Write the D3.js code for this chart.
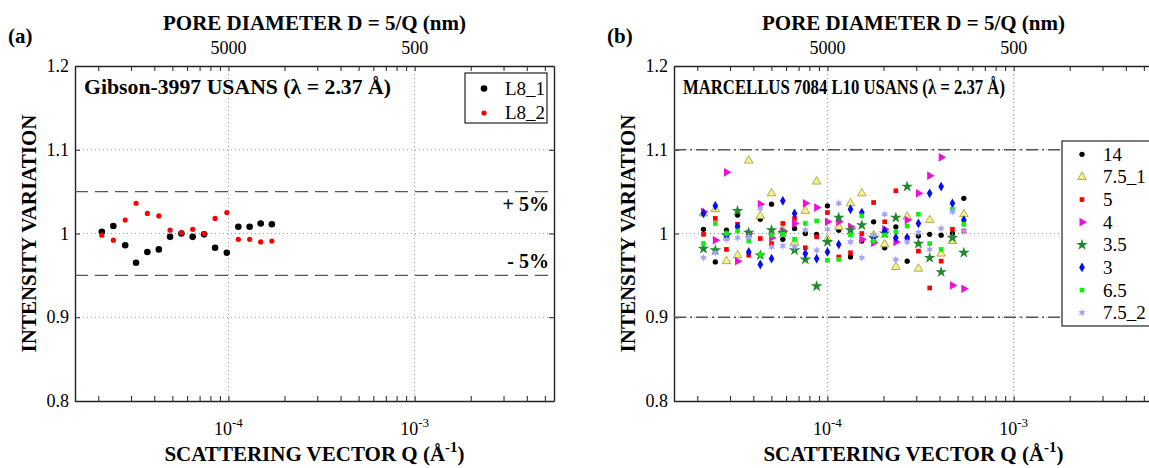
<!DOCTYPE html>
<html><head><meta charset="utf-8">
<script src="https://cdn.jsdelivr.net/npm/d3@7"></script>
<style>
body{margin:0;background:#fff;}
</style></head>
<body><svg id="chart" width="1149" height="468"></svg>
<script>
// ---------- DATA ----------
const xTicksMinor = [2e-5,3e-5,4e-5,5e-5,6e-5,7e-5,8e-5,9e-5,1e-4,2e-4,3e-4,4e-4,5e-4,6e-4,7e-4,8e-4,9e-4,1e-3,2e-3,3e-3,4e-3,5e-3];
const xMajor = [1e-4, 1e-3];
const xMajorExp = ["-4", "-3"];
const topLabels = ["5000", "500"];
const yTicks = [0.8, 0.9, 1, 1.1, 1.2];
const yTickLabels = ["0.8", "0.9", "1", "1.1", "1.2"];

// panel (a)
const qA = [2.09e-5,2.41e-5,2.79e-5,3.19e-5,3.67e-5,4.23e-5,4.86e-5,5.59e-5,6.43e-5,7.40e-5,8.48e-5,9.80e-5,1.13e-4,1.30e-4,1.49e-4,1.71e-4];
const L8_1 = [1.002,1.009,0.986,0.965,0.978,0.981,0.996,1.000,0.996,0.999,0.983,0.977,1.008,1.008,1.012,1.011];
const L8_2 = [0.998,0.992,1.016,1.036,1.024,1.021,1.004,1.001,1.005,1.000,1.018,1.025,0.993,0.993,0.990,0.991];
const seriesA = ["L8_1", "L8_2"];
const bandsA = [1.05, 0.95];
const bandLabelsA = ["+ 5%", "- 5%"];

// panel (b)
const qB = [2.16e-5,2.50e-5,2.87e-5,3.29e-5,3.78e-5,4.36e-5,5.01e-5,5.76e-5,6.66e-5,7.61e-5,8.75e-5,1.00e-4,1.15e-4,1.33e-4,1.53e-4,1.77e-4,2.03e-4,2.33e-4,2.68e-4,3.08e-4,3.54e-4,4.08e-4,4.69e-4,5.40e-4];
const s14   = [1.005,0.966,1.004,1.022,0.999,1.017,1.035,0.993,1.006,1.000,0.999,1.033,1.004,0.972,0.991,1.014,0.983,1.008,0.967,0.997,0.999,0.998,1.000,1.042];
const s75_1 = [1.024,1.029,0.967,0.974,1.087,1.021,1.048,1.004,0.989,1.027,1.062,0.993,1.008,1.036,1.048,0.998,0.987,0.960,1.020,0.958,1.016,0.976,0.991,1.023];
const s5    = [0.999,1.018,0.981,1.011,0.974,0.994,0.988,1.012,1.018,0.983,0.996,1.025,0.972,0.977,1.000,1.037,1.014,1.051,0.995,0.979,0.935,0.967,1.005,1.003];
const s4    = [1.026,0.992,1.073,0.967,1.000,1.035,0.995,1.003,1.012,1.036,1.031,1.014,1.014,1.008,0.993,0.989,1.005,0.990,1.016,1.048,1.069,1.091,0.938,0.934];
const s35   = [0.982,0.980,0.998,1.027,1.001,0.974,1.004,1.001,0.980,0.969,0.937,0.990,1.019,1.004,1.010,0.995,1.000,1.019,1.056,0.988,0.971,0.954,0.995,0.977];
const s3    = [1.024,1.033,0.997,1.008,0.978,0.963,0.970,1.039,1.024,0.976,0.970,0.978,0.987,1.029,1.025,0.995,1.003,0.995,0.995,1.012,1.048,1.056,1.036,1.016];
const s65   = [0.988,1.012,1.000,1.003,0.991,0.975,0.998,0.999,0.993,1.012,1.015,0.968,0.969,0.998,1.021,0.991,0.998,1.002,1.009,1.023,0.988,0.981,1.029,1.011];
const s75_2 = [0.971,0.977,0.993,0.995,0.996,1.030,0.984,0.985,0.984,1.004,0.980,1.005,1.036,0.990,0.971,0.998,1.023,0.969,0.990,1.001,0.981,1.006,1.026,1.003];
const seriesBNames = ["14", "7.5_1", "5", "4", "3.5", "3", "6.5", "7.5_2"];
const seriesBValues = [s14, s75_1, s5, s4, s35, s3, s65, s75_2];
const bandsB = [1.1, 0.9];

// ---------- STYLE ----------
const FONT = "Liberation Serif";
const svg = d3.select("#chart");
const xDomain = [1.5e-5, 5.6e-3];
const yDomain = [0.8, 1.2];
const plotTop = 66, plotBot = 401;

const markerStyles = [
  {shape:"circle", fill:"#000", stroke:"none"},
  {shape:"triangle", fill:"#f4f28a", stroke:"#9a9a3a"},
  {shape:"square", fill:"#ff0000", stroke:"none"},
  {shape:"tright", fill:"#f010d8", stroke:"none"},
  {shape:"star", fill:"#1f8a2f", stroke:"none"},
  {shape:"diamond", fill:"#0010f0", stroke:"none"},
  {shape:"square", fill:"#10f010", stroke:"none"},
  {shape:"hex", fill:"#a3a0f8", stroke:"none"}
];

function shapePath(shape){
  if(shape==="circle") return d3.symbol(d3.symbolCircle, 22)();
  if(shape==="square") return d3.symbol(d3.symbolSquare, 22)();
  if(shape==="triangle") return d3.symbol(d3.symbolTriangle, 32)();
  if(shape==="diamond") return d3.symbol(d3.symbolDiamond, 28)();
  if(shape==="star") return d3.symbol(d3.symbolStar, 42)();
  if(shape==="tright"){
    const r=5; return d3.line()([[r,0],[-r/2,-r*0.87],[-r/2,r*0.87]])+"Z";
  }
  if(shape==="hex"){
    const pts=[]; for(let i=0;i<12;i++){const a=-Math.PI/2+i*Math.PI/6;const rr=i%2?1.8:4;pts.push([rr*Math.cos(a),rr*Math.sin(a)]);}
    return d3.line()(pts)+"Z";
  }
}

function txt(sel){ return sel.attr("font-family", FONT); }

function drawPanel(x0, x1, tag){
  const x = d3.scaleLog().domain(xDomain).range([x0, x1]);
  const y = d3.scaleLinear().domain(yDomain).range([plotBot, plotTop]);
  const g = svg.append("g");
  // grid
  g.selectAll(".gx").data(xMajor).join("line")
    .attr("x1", d=>x(d)).attr("x2", d=>x(d)).attr("y1", plotTop).attr("y2", plotBot)
    .attr("stroke", "#9a9a9a").attr("stroke-width", 1).attr("stroke-dasharray", "1,3");
  g.selectAll(".gy").data(yTicks.slice(1,-1)).join("line")
    .attr("x1", x0).attr("x2", x1).attr("y1", d=>y(d)).attr("y2", d=>y(d))
    .attr("stroke", "#9a9a9a").attr("stroke-width", 1).attr("stroke-dasharray", "1,3");

  // axes
  const axB = d3.axisBottom(x).tickValues(xTicksMinor).tickSizeInner(-5).tickSizeOuter(0).tickFormat("");
  const axT = d3.axisTop(x).tickValues(xTicksMinor).tickSizeInner(-5).tickSizeOuter(0).tickFormat("");
  const axL = d3.axisLeft(y).tickValues(yTicks).tickSizeInner(-5).tickSizeOuter(0).tickFormat("");
  const axR = d3.axisRight(y).tickValues(yTicks).tickSizeInner(-5).tickSizeOuter(0).tickFormat("");
  [[axB,`translate(0,${plotBot})`],[axT,`translate(0,${plotTop})`],[axL,`translate(${x0},0)`],[axR,`translate(${x1},0)`]].forEach(([a,t])=>{
    const ga = g.append("g").attr("transform", t).call(a);
    ga.select(".domain").attr("stroke","#222").attr("stroke-width",1.4);
    ga.selectAll(".tick line").attr("stroke","#222").attr("stroke-width",1);
  });

  // tick labels
  txt(g.selectAll(".ylab").data(yTicks).join("text"))
    .attr("x", x0-6).attr("y", d=>y(d)+6).attr("text-anchor","end")
    .attr("font-size", 18).text((d,i)=>yTickLabels[i]);
  const bl = txt(g.selectAll(".xlab").data(xMajor).join("text"))
    .attr("x", d=>x(d)).attr("y", plotBot+34).attr("text-anchor","middle").attr("font-size", 18);
  bl.append("tspan").text("10");
  bl.append("tspan").attr("dy", -8).attr("font-size", 13).text((d,i)=>xMajorExp[i]);
  txt(g.selectAll(".tlab").data(xMajor).join("text"))
    .attr("x", d=>x(d)).attr("y", plotTop-12).attr("text-anchor","middle")
    .attr("font-size", 18).text((d,i)=>topLabels[i]);

  // titles
  const cxa = (x0+x1)/2;
  txt(svg.append("text")).attr("x", cxa).attr("y", 30).attr("text-anchor","middle")
    .attr("font-size", 21).attr("font-weight","bold").text("PORE DIAMETER D = 5/Q (nm)");
  const xl = txt(svg.append("text")).attr("x", cxa).attr("y", 461).attr("text-anchor","middle")
    .attr("font-size", 21).attr("font-weight","bold");
  xl.append("tspan").text("SCATTERING VECTOR Q (Å");
  xl.append("tspan").attr("dy",-9).attr("font-size",15).text("-1");
  xl.append("tspan").attr("dy",9).text(")");
  txt(svg.append("text")).attr("transform", `translate(${x0-39},${(plotTop+plotBot)/2}) rotate(-90)`)
    .attr("text-anchor","middle").attr("font-size", 21).attr("font-weight","bold").text("INTENSITY VARIATION");
  txt(svg.append("text")).attr("x", x0-67).attr("y", 43).attr("font-size", 21).attr("font-weight","bold").text(tag);
  return {x, y, g};
}

// ---------- PANEL A ----------
const A = drawPanel(75, 554, "(a)");
A.g.selectAll(".band").data(bandsA).join("line")
  .attr("x1", 75).attr("x2", 554).attr("y1", d=>A.y(d)).attr("y2", d=>A.y(d))
  .attr("stroke","#555").attr("stroke-width",1.3).attr("stroke-dasharray","13,7");
txt(A.g.selectAll(".bandlab").data(bandsA).join("text"))
  .attr("x", 549).attr("y", (d,i)=>A.y(d)+(i===0?19:-7)).attr("text-anchor","end")
  .attr("font-size", 20).attr("font-weight","bold").text((d,i)=>bandLabelsA[i]);
A.g.selectAll(".pa1").data(qA.map((q,i)=>[q,L8_1[i]])).join("circle")
  .attr("cx", d=>A.x(d[0])).attr("cy", d=>A.y(d[1])).attr("r", 3.3).attr("fill","#000");
A.g.selectAll(".pa2").data(qA.map((q,i)=>[q,L8_2[i]])).join("circle")
  .attr("cx", d=>A.x(d[0])).attr("cy", d=>A.y(d[1])).attr("r", 2.6).attr("fill","#f00");
txt(A.g.append("text")).attr("x", 84).attr("y", 94).attr("font-size", 21.5).attr("font-weight","bold")
  .attr("textLength", 307).attr("lengthAdjust","spacingAndGlyphs")
  .text("Gibson-3997 USANS (λ = 2.37 Å)");
// legend a
const legA = A.g.append("g");
legA.append("rect").attr("x",465).attr("y",73).attr("width",82).attr("height",50)
  .attr("fill","#fff").attr("stroke","#333").attr("stroke-width",1.3);
const colA = ["#000","#f00"], rA=[3.3,2.6];
seriesA.forEach((s,i)=>{
  legA.append("circle").attr("cx",484).attr("cy",88.5+i*24.5).attr("r",rA[i]).attr("fill",colA[i]);
  txt(legA.append("text")).attr("x",505).attr("y",94.5+i*24.5).attr("font-size",19).text(s);
});

// ---------- PANEL B ----------
const B = drawPanel(674, 1153, "(b)");
B.g.selectAll(".band").data(bandsB).join("line")
  .attr("x1", 674).attr("x2", 1153).attr("y1", d=>B.y(d)).attr("y2", d=>B.y(d))
  .attr("stroke","#555").attr("stroke-width",1.3).attr("stroke-dasharray","12,4,2,4");
seriesBValues.forEach((vals,si)=>{
  const st = markerStyles[si];
  const p = shapePath(st.shape);
  B.g.append("g").selectAll("path").data(qB.map((q,i)=>[q,vals[i]])).join("path")
    .attr("d", p).attr("transform", d=>`translate(${B.x(d[0])},${B.y(d[1])})`)
    .attr("fill", st.fill).attr("stroke", st.stroke).attr("stroke-width", 0.8);
});
txt(B.g.append("text")).attr("x", 683).attr("y", 94).attr("font-size", 20).attr("font-weight","bold")
  .attr("textLength", 322).attr("lengthAdjust","spacingAndGlyphs")
  .text("MARCELLUS 7084 L10 USANS (λ = 2.37 Å)");
// legend b
const legB = B.g.append("g");
legB.append("rect").attr("x",1062).attr("y",141).attr("width",100).attr("height",185)
  .attr("fill","#fff").attr("stroke","#333").attr("stroke-width",1.3);
seriesBNames.forEach((s,i)=>{
  const st = markerStyles[i];
  const yy = 154.3 + i*22.63;
  legB.append("path").attr("d", shapePath(st.shape)).attr("transform",`translate(1082,${yy})`)
    .attr("fill", st.fill).attr("stroke", st.stroke).attr("stroke-width",0.8);
  txt(legB.append("text")).attr("x",1103).attr("y",yy+6.5).attr("font-size",19).text(s);
});
</script>
</body></html>
